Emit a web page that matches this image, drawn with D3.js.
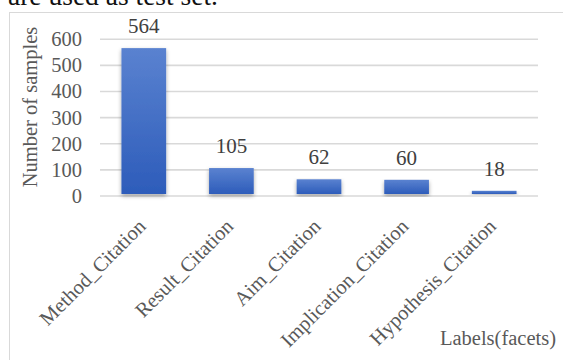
<!DOCTYPE html>
<html>
<head>
<meta charset="utf-8">
<script src="https://cdn.jsdelivr.net/npm/d3@7"></script>
<style>
  html, body { margin: 0; padding: 0; background: #fff; }
  svg { display: block; }
  text { font-family: "Liberation Serif", "Times New Roman", serif; }
</style>
</head>
<body>
<svg id="chart" width="563" height="360"></svg>
<script>
// Citation facet counts
const categories = ["Method_Citation", "Result_Citation", "Aim_Citation", "Implication_Citation", "Hypothesis_Citation"];
const values = [564, 105, 62, 60, 18];
const yTicks = [0, 100, 200, 300, 400, 500, 600];
const yTitle = "Number of samples";
const xTitle = "Labels(facets)";
const caption = "are used as test set.";

const svg = d3.select("#chart");
const W = 563, H = 360;
const margin = { left: 100, right: 25, top: 38.7, bottom: 164.5 };

const x = d3.scaleBand()
  .domain(categories)
  .range([margin.left, W - margin.right])
  .paddingInner(0.49)
  .paddingOuter(0.245);

const y = d3.scaleLinear()
  .domain([0, 600])
  .range([H - margin.bottom, margin.top]);

const defs = svg.append("defs");
const grad = defs.append("linearGradient")
  .attr("id", "barFill").attr("x1", 0).attr("y1", 0).attr("x2", 0).attr("y2", 1);
grad.append("stop").attr("offset", "0%").attr("stop-color", "#5a82d0");
grad.append("stop").attr("offset", "100%").attr("stop-color", "#2d5cba");

const shadow = defs.append("filter").attr("id", "barShadow")
  .attr("x", "-30%").attr("y", "-10%").attr("width", "160%").attr("height", "130%");
shadow.append("feGaussianBlur").attr("in", "SourceAlpha").attr("stdDeviation", 2);
shadow.append("feOffset").attr("dx", 0).attr("dy", 1.5).attr("result", "blur");
shadow.append("feComponentTransfer").append("feFuncA").attr("type", "linear").attr("slope", 0.35);
const merge = shadow.append("feMerge");
merge.append("feMergeNode");
merge.append("feMergeNode").attr("in", "SourceGraphic");

// Caption line above the chart frame
svg.append("text")
  .attr("x", 8).attr("y", 5)
  .attr("font-size", 27.5)
  .attr("fill", "#111")
  .text(caption);

// Chart frame
svg.append("rect")
  .attr("x", 9.5).attr("y", 12.5)
  .attr("width", W).attr("height", H)
  .attr("fill", "none")
  .attr("stroke", "#d9d9d9")
  .attr("stroke-width", 1);

// Gridlines and y ticks
const yAxis = d3.axisLeft(y)
  .tickValues(yTicks)
  .tickSize(-(W - margin.right - margin.left))
  .tickPadding(18);

const gy = svg.append("g")
  .attr("transform", `translate(${margin.left},0)`)
  .call(yAxis);
gy.select(".domain").remove();
gy.selectAll(".tick line")
  .attr("stroke", "#d9d9d9")
  .attr("stroke-width", 1.6);
gy.selectAll(".tick text")
  .attr("font-size", 20.5)
  .attr("fill", "#595959")
  .attr("font-family", "Liberation Serif, Times New Roman, serif")
  .attr("dy", "0.34em");

// Bars
svg.append("g").selectAll("rect")
  .data(values)
  .join("rect")
  .attr("x", (d, i) => x(categories[i]))
  .attr("y", d => y(d))
  .attr("width", x.bandwidth())
  .attr("height", d => y(0) - y(d) - 1.5)
  .attr("fill", "url(#barFill)")
  .attr("filter", "url(#barShadow)");

// Value labels
svg.append("g").selectAll("text")
  .data(values)
  .join("text")
  .attr("x", (d, i) => x(categories[i]) + x.bandwidth() / 2)
  .attr("y", d => y(d) - 15)
  .attr("text-anchor", "middle")
  .attr("font-size", 21)
  .attr("fill", "#404040")
  .text(d => d);

// Category labels, rotated
const xAxis = d3.axisBottom(x).tickSize(0).tickPadding(0);
const gx = svg.append("g")
  .attr("transform", `translate(0,${y(0)})`)
  .call(xAxis);
gx.select(".domain").remove();
gx.selectAll(".tick text")
  .attr("font-size", 20.5)
  .attr("fill", "#595959")
  .attr("font-family", "Liberation Serif, Times New Roman, serif")
  .attr("text-anchor", "end")
  .attr("transform", "translate(-2,27) rotate(-45)")
  .attr("dy", "0.35em");

// Axis titles
svg.append("text")
  .attr("transform", `translate(37,${107}) rotate(-90)`)
  .attr("text-anchor", "middle")
  .attr("font-size", 20.5)
  .attr("fill", "#595959")
  .text(yTitle);

svg.append("text")
  .attr("x", 556).attr("y", 345)
  .attr("text-anchor", "end")
  .attr("font-size", 20.5)
  .attr("fill", "#595959")
  .text(xTitle);
</script>
</body>
</html>
